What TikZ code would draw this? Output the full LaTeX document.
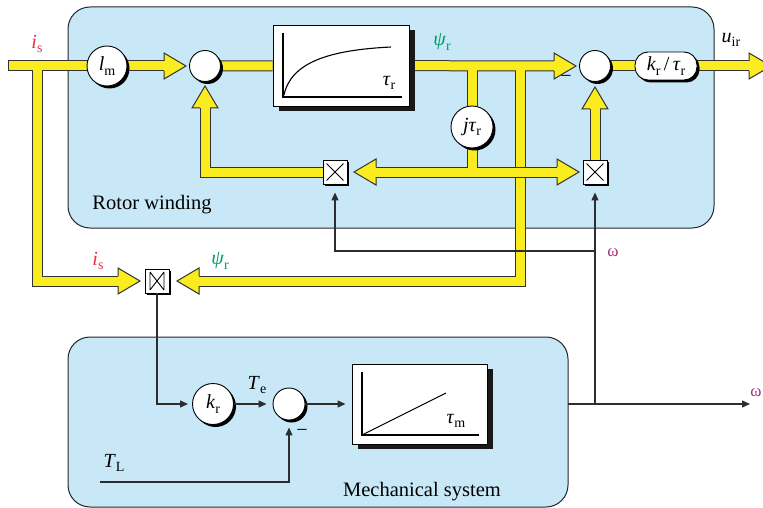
\documentclass[tikz,border=0pt]{standalone}
\usepackage{fontspec}
\setmainfont{Liberation Serif}
\usetikzlibrary{shadows,arrows.meta}
\definecolor{rotorblue}{RGB}{200,232,248}
\definecolor{yfillc}{RGB}{250,236,30}
\definecolor{yedgec}{RGB}{50,50,50}
\definecolor{lred}{RGB}{236,45,60}
\definecolor{lgreen}{RGB}{0,158,96}
\definecolor{lpurple}{RGB}{158,48,120}
\definecolor{thinc}{RGB}{45,45,45}
\newcommand\lsub[1]{\raisebox{-0.22em}{\fontsize{14}{14}\selectfont #1}}
\newcommand\lab{\fontsize{20}{20}\selectfont}
\pgfdeclarelayer{panellayer}
\pgfdeclarelayer{bandlayer}
\pgfsetlayers{panellayer,bandlayer,main}
\newcommand\yhead[2]{\begin{scope}[shift={#1},rotate=#2]
 \path[fill=yfillc] (0,0) -- (-22,13) -- (-22,-13) -- cycle;
 \draw[draw=yedgec, line width=1, line join=miter] (-22,5) -- (-22,13) -- (0,0) -- (-22,-13) -- (-22,-5);
\end{scope}}
\newcommand\bandsA[1]{%
 \draw[#1] (8,66) -- (166,66);
 \draw[#1] (37,66) -- (37,281) -- (120,281);
 \draw[#1] (s1) -- (tr);
 \draw[#1] (tr) -- (556,66);
 \draw[#1] (472,66) -- (jt);
 \draw[#1] (520,66) -- (520,281) -- (197,281);
 \draw[#1] (mA) -- (205,172) -- (205,106);
 \draw[#1] (mB) -- (595,107);
 \draw[#1] (s2) -- (krt) -- (751,66);
}
\newcommand\bandsB[1]{%
 \draw[#1] (374,172) -- (559,172);
 \draw[#1] (jt) -- (472,172);
}
\begin{document}
\begin{tikzpicture}[x=1pt,y=-1pt,
 panel/.style={draw=black!85, line width=1, fill=rotorblue, rounded corners=22},
 bout/.style={draw=yedgec, line width=11, line join=miter},
 bin/.style={draw=yfillc, line width=9, line join=miter},
 sigline/.style={draw=thinc, line width=1.1},
 tarr/.style={sigline, -{Triangle[length=8,width=7]}},
 circ/.style={circle, draw=black, line width=0.9, fill=white, inner sep=0, minimum size=#1, drop shadow={shadow xshift=2.5pt, shadow yshift=-2.5pt, fill=black, opacity=1}},
 blk/.style={rectangle, draw=black, line width=0.9, fill=white, inner sep=0, drop shadow={shadow xshift=6pt, shadow yshift=-5pt, fill=black!90, opacity=1}},
 mul/.style={rectangle, draw=black, line width=0.9, fill=white, inner sep=0, minimum size=24, drop shadow={shadow xshift=2pt, shadow yshift=-2pt, fill=black, opacity=1}},
]
\clip (0,0) rectangle (763,508);
\begin{pgfonlayer}{panellayer}
\draw[panel] (68,7) rectangle (714,228);
\draw[panel] (68,337) rectangle (568,507);
\end{pgfonlayer}

% nodes
\node[circ=40] (lm) at (107,66) {\lab\textit{l}\lsub{m}};
\node[circ=31] (s1) at (205,66) {};
\node[blk, minimum width=136, minimum height=81] (tr) at (341,65.5) {};
\node[circ=31] (s2) at (595,66) {};
\node[circ=42] (jt) at (472,127) {\lab\textit{jτ}\lsub{r}};
\node[mul] (mA) at (335,172) {};
\node[mul] (mB) at (595,172) {};
\node[mul] (mC) at (157,281) {};
\node[rectangle, rounded corners=13, draw=black, line width=0.9, fill=white, minimum width=62, minimum height=28, inner sep=0, drop shadow={shadow xshift=2.5pt, shadow yshift=-2.5pt, fill=black, opacity=1}] (krt) at (666,66) {\lab\textit{k}\lsub{r}\,/\,\textit{τ}\lsub{r}};
\node[circ=41] (kr) at (213,404) {\lab\textit{k}\lsub{r}};
\node[circ=32] (s3) at (289,404) {};
\node[blk, minimum width=135, minimum height=80] (tm) at (419.5,404) {};

% symbols inside blocks
\draw[line width=1.1] (283,33) -- (283,97) -- (402,97);
\draw[line width=1.1] (284,95) .. controls (291,62) and (330,50) .. (391,47);
\node at (389,83) {\lab\textit{τ}\lsub{r}};
\draw[line width=1.1] (362,372) -- (362,435) -- (479,435);
\draw[line width=1.1] (362,435) -- (446,393);
\node at (456,421) {\lab\textit{τ}\lsub{m}};
\draw[line width=0.9] ([shift={(4,4)}]mA.north west) -- ([shift={(-4,-4)}]mA.south east);
\draw[line width=0.9] ([shift={(4,-4)}]mA.south west) -- ([shift={(-4,4)}]mA.north east);
\draw[line width=0.9] ([shift={(4,4)}]mB.north west) -- ([shift={(-4,-4)}]mB.south east);
\draw[line width=0.9] ([shift={(4,-4)}]mB.south west) -- ([shift={(-4,4)}]mB.north east);
\draw[line width=0.9] (150,272) -- (150,290) (164,272) -- (164,290) (150,272) -- (164,290) (150,290) -- (164,272);

% yellow bands
\begin{pgfonlayer}{bandlayer}
\bandsA{bout}
\bandsA{bin}
\bandsB{bout}
\bandsB{bin}
\draw[draw=yedgec, line width=1] (8,60.5) -- (8,71.5);
\yhead{(186,66)}{0}
\yhead{(205,86)}{90}
\yhead{(576,66)}{0}
\yhead{(595,87)}{90}
\yhead{(354,172)}{180}
\yhead{(579,172)}{0}
\yhead{(140,281)}{0}
\yhead{(177,281)}{180}
\yhead{(771,66)}{0}
\end{pgfonlayer}

% thin signal lines
\coordinate (mbE) at (568,404);
\coordinate (wout) at (750,404);
\coordinate (wj) at (595,404);
\coordinate (wk) at (595,251);
\coordinate (wc) at (335,251);
\coordinate (tl) at (100,482);
\draw[tarr] (mbE) -- (wout);
\draw[tarr, shorten >=8] (wj) -- (mB.south);
\draw[tarr, shorten >=8] (wk) -- (wc) -- (mA.south);
\draw[tarr, shorten >=4] (mC.south) |- (kr.west);
\draw[tarr, shorten >=6] (kr.east) -- (s3.west);
\draw[tarr, shorten >=6] (s3.east) -- (tm.west);
\draw[tarr, shorten >=7] (tl) -| (s3.south);

% labels
\node[text=lred] at (37,44) {\lab\textit{i}\lsub{s}};
\node[text=lred] at (98,261) {\lab\textit{i}\lsub{s}};
\node[text=lgreen] at (442,42) {\lab\textit{ψ}\lsub{r}};
\node[text=lgreen] at (220,261) {\lab\textit{ψ}\lsub{r}};
\node at (731,40) {\lab\textit{u}\lsub{ir}};
\node[text=lpurple] at (613,253) {\fontsize{17}{17}\selectfont ω};
\node[text=lpurple] at (756,393) {\fontsize{17}{17}\selectfont ω};
\node at (257,385) {\lab\textit{T}\lsub{e}};
\node at (114,463) {\lab\textit{T}\lsub{L}};
\node at (566,79) {\lab −};
\node at (302,433) {\lab −};
\node at (152,205) {\fontsize{20.5}{20}\selectfont Rotor winding};
\node at (422,492) {\fontsize{20.5}{20}\selectfont Mechanical system};
\end{tikzpicture}
\end{document}
